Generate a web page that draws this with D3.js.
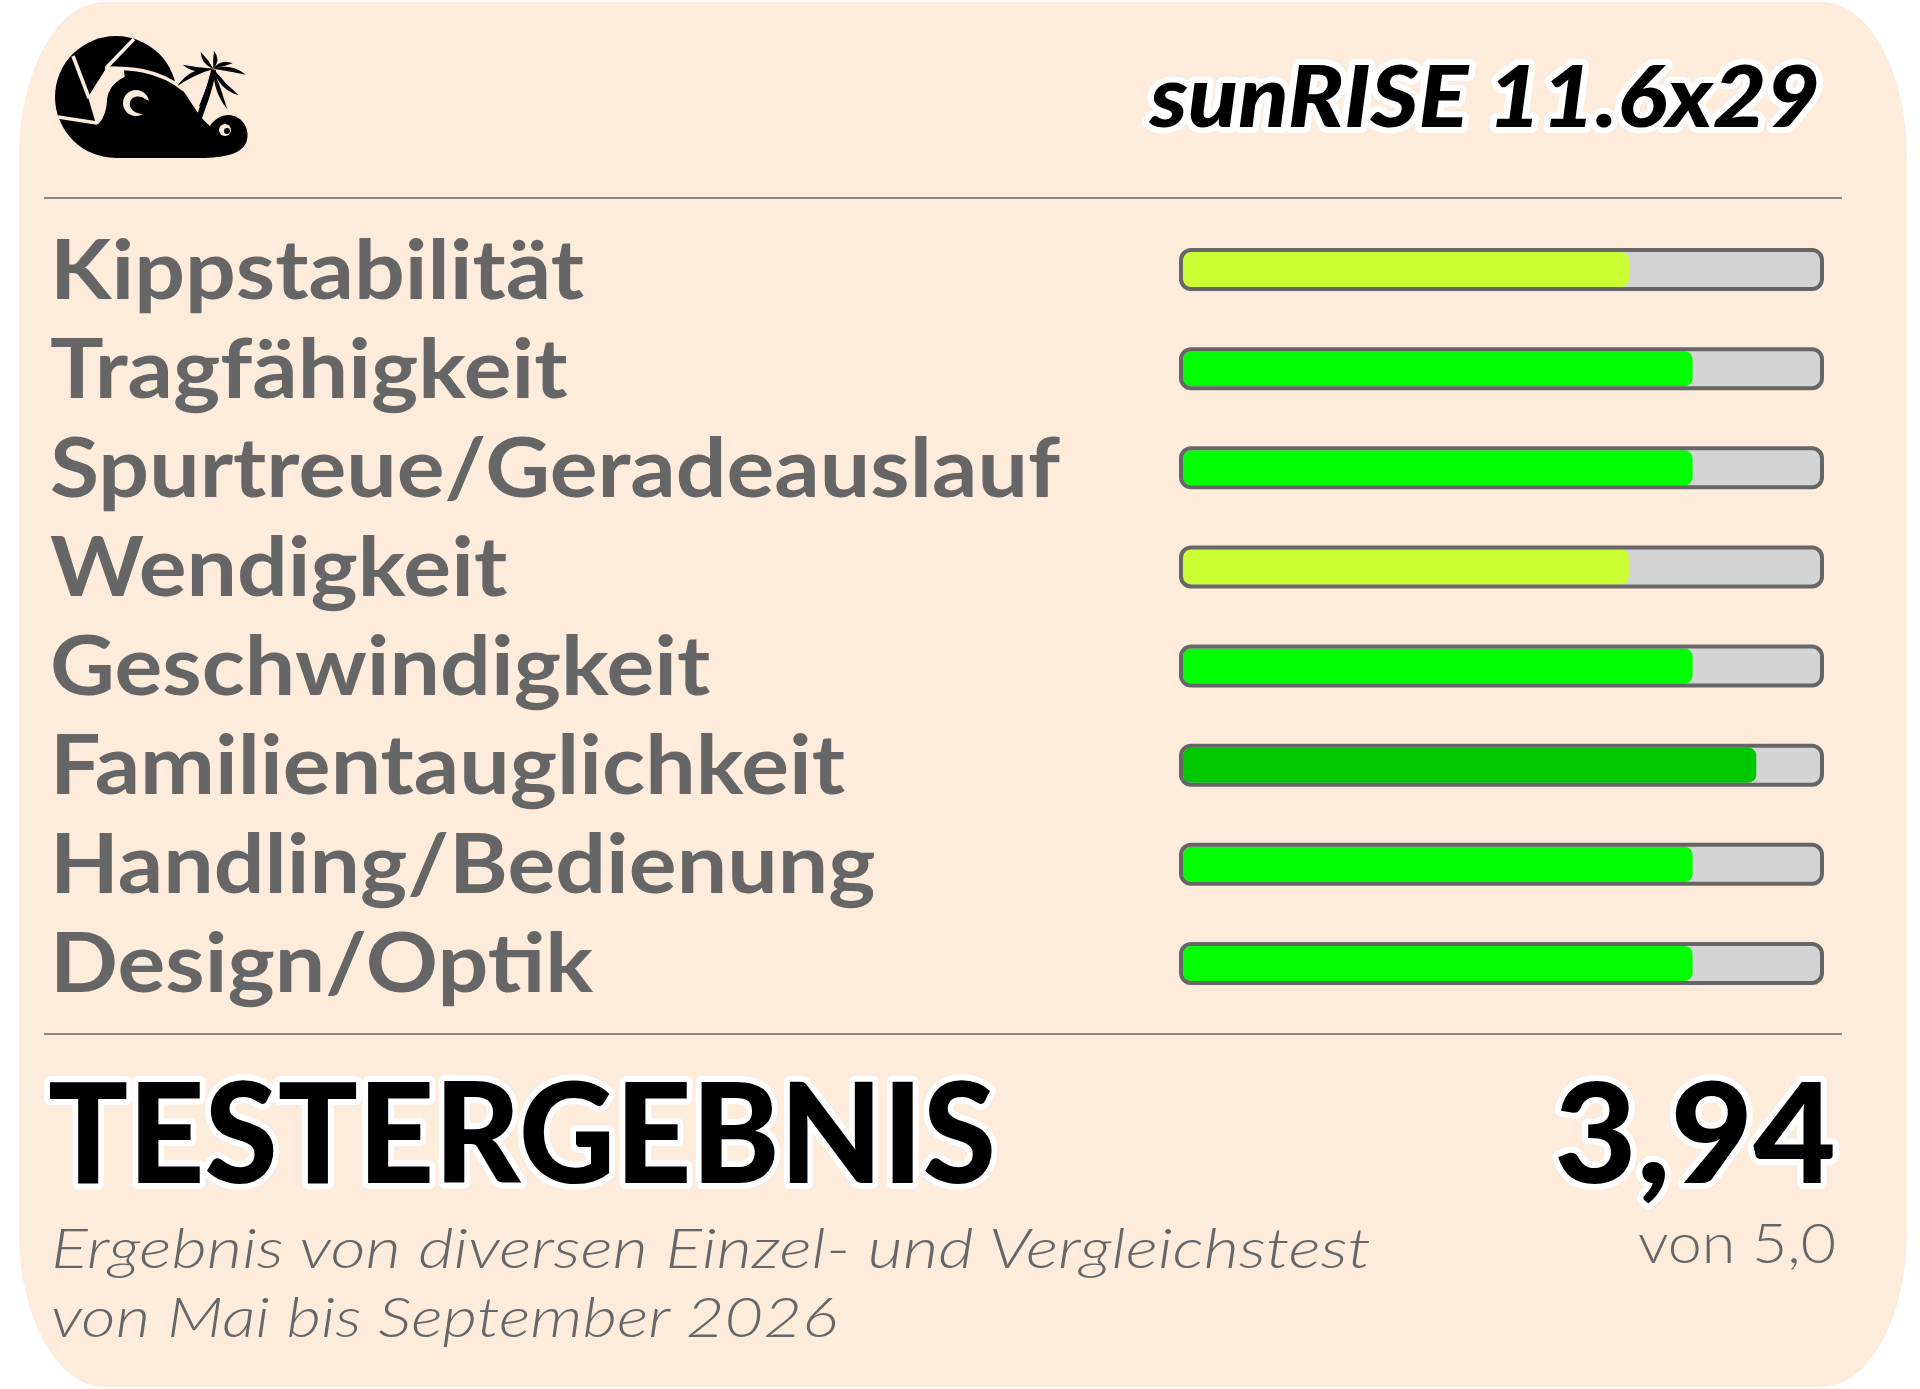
<!DOCTYPE html>
<html>
<head>
<meta charset="utf-8">
<title>sunRISE 11.6x29 – Testergebnis</title>
<script src="https://cdn.jsdelivr.net/npm/d3@7"></script>
<style>
  html, body { margin: 0; padding: 0; background: #ffffff; }
  svg { display: block; }
</style>
</head>
<body>
<div id="chart"></div>
<script>
// chart data
const productName = "sunRISE 11.6x29"
const criteria = [
  "Kippstabilität",
  "Tragfähigkeit",
  "Spurtreue/Geradeauslauf",
  "Wendigkeit",
  "Geschwindigkeit",
  "Familientauglichkeit",
  "Handling/Bedienung",
  "Design/Optik"
]
const scores = [3.5, 4, 4, 3.5, 4, 4.5, 4, 4]
const maxScore = 5
const resultTitle = "TESTERGEBNIS"
const noteLines = [
  "Ergebnis von diversen Einzel- und Vergleichstest",
  "von Mai bis September 2026"
]

const WIDTH = 1920
const HEIGHT = 1389
const CARD = { LEFT: 19, RIGHT: 1907, TOP: 2, BOTTOM: 1387, RX: 85, RY: 155 }
const BG = "#fdecdb"
const GREY = "#666666"
const FONT = "Lato, 'Open Sans', 'DejaVu Sans', sans-serif"

const svg = d3.select("#chart").append("svg")
  .attr("width", WIDTH)
  .attr("height", HEIGHT)

// card with soft elliptical corners
const c = CARD
svg.append("path")
  .attr("d", `M${c.LEFT + c.RX},${c.TOP} H${c.RIGHT - c.RX}
    A${c.RX},${c.RY} 0 0 1 ${c.RIGHT},${c.TOP + c.RY} V${c.BOTTOM - c.RY}
    A${c.RX},${c.RY} 0 0 1 ${c.RIGHT - c.RX},${c.BOTTOM} H${c.LEFT + c.RX}
    A${c.RX},${c.RY} 0 0 1 ${c.LEFT},${c.BOTTOM - c.RY} V${c.TOP + c.RY}
    A${c.RX},${c.RY} 0 0 1 ${c.LEFT + c.RX},${c.TOP} Z`)
  .attr("fill", BG)

// logo: aperture circle, curling wave, palm
const logo = svg.append("g").attr("class", "logo")

logo.append("circle")
  .attr("cx", 116).attr("cy", 97).attr("r", 61)
  .attr("fill", "#000")

// open strip between the blades and the wave
logo.append("path")
  .attr("d", "M107,67 L88,97 L96,124 L114,130 L128,112 L124,70 Z")
  .attr("fill", BG)

// wave body: crest, back and tail
logo.append("path")
  .attr("d", `M107,101 C108,85 122,74 142,73 C160,72 175,80 184,92
    C193,105 200,118 210,126 C215,118 225,113 234,116 C246,120 250,133 246,143
    C241,153 228,157 205,158 L116,158 L94,127 C100,124 106,116 107,101 Z`)
  .attr("fill", "#000")

// blade gaps and the thin gap above the crest
const cuts = [
  "M73,56 L89,98",
  "M58,117 L97,123",
  "M134,39 L107,67",
  "M105,68 C126,68 158,68 184,90"
]
logo.selectAll("path.cut").data(cuts).enter().append("path")
  .attr("class", "cut")
  .attr("d", d => d)
  .attr("fill", "none")
  .attr("stroke", BG)
  .attr("stroke-width", 3.6)

// wave eye with the curling lip
logo.append("circle")
  .attr("cx", 136).attr("cy", 103).attr("r", 13)
  .attr("fill", BG)
logo.append("path")
  .attr("d", "M152,113 C140,117 128,111 130,102 C132,96 140,95 145,99 C148,101 150,101 154,98 C152,104 150,108 152,113 Z")
  .attr("fill", "#000")

// small curl at the tail
logo.append("circle")
  .attr("cx", 225).attr("cy", 130).attr("r", 6)
  .attr("fill", BG)
logo.append("circle")
  .attr("cx", 227).attr("cy", 131).attr("r", 3)
  .attr("fill", "#000")

// palm, drawn at 3x and scaled down
const palm = logo.append("g")
  .attr("transform", "translate(50,30) scale(0.3333)")
palm.append("path")
  .attr("d", "M436,272 C452,220 472,170 484,118 L498,120 C490,175 470,225 452,276 Z")
  .attr("fill", "#000")
const crown = [490, 116]
const fronds = [
  [382, 168, 22], [398, 104, -16], [452, 66, -8], [492, 62, 10],
  [548, 100, -10], [588, 134, -14], [566, 196, 18], [532, 238, 10], [446, 232, -14]
]
function leaf(tx, ty, bend) {
  const [cx, cy] = crown
  const mx = (cx + tx) / 2, my = (cy + ty) / 2
  const dx = tx - cx, dy = ty - cy
  const len = Math.hypot(dx, dy)
  const nx = -dy / len, ny = dx / len
  return `M${cx},${cy} Q${mx + nx * (bend + 13)},${my + ny * (bend + 13)} ${tx},${ty}
    Q${mx + nx * (bend - 13)},${my + ny * (bend - 13)} ${cx},${cy} Z`
}
palm.selectAll("path.frond").data(fronds).enter().append("path")
  .attr("class", "frond")
  .attr("d", d => leaf(d[0], d[1], d[2]))
  .attr("fill", "#000")

// outlined heading text helper
function outlined(sel, size, style) {
  return sel
    .attr("font-family", FONT)
    .attr("font-size", size)
    .attr("font-weight", 900)
    .attr("font-style", style || "normal")
    .attr("fill", "#000")
    .attr("stroke", "#fff")
    .attr("stroke-width", 12)
    .attr("stroke-linejoin", "round")
    .attr("paint-order", "stroke")
}

function fitTo(sel, width) {
  sel.attr("textLength", width).attr("lengthAdjust", "spacingAndGlyphs")
}

// title
const title = outlined(svg.append("text"), 86, "italic")
  .attr("x", 1150)
  .attr("y", 127)
  .text(productName)
fitTo(title, 670)

// separators
const sepY = [198, 1034]
svg.selectAll("line.sep").data(sepY).enter().append("line")
  .attr("class", "sep")
  .attr("x1", 44).attr("x2", 1842)
  .attr("y1", d => d).attr("y2", d => d)
  .attr("stroke", "#8a8580")
  .attr("stroke-width", 2)

// scales
const y = d3.scaleBand()
  .domain(criteria)
  .range([220, 1013])
  .paddingInner(0)

const x = d3.scaleLinear()
  .domain([0, maxScore])
  .range([1183, 1820])

const color = d3.scaleThreshold()
  .domain([3.75, 4.25])
  .range(["#ccff33", "#00ff00", "#00c800"])

const rows = criteria.map((name, i) => ({ name, score: scores[i] }))

// labels
const labels = svg.selectAll("text.label").data(rows).enter().append("text")
  .attr("class", "label")
  .attr("x", 50)
  .attr("y", d => y(d.name) + y.bandwidth() / 2 + 29)
  .attr("font-family", FONT)
  .attr("font-size", 82)
  .attr("font-weight", 700)
  .attr("fill", GREY)
  .text(d => d.name)

const natural = labels.nodes().map(n => n.getComputedTextLength())
const labelScale = 1010 / d3.max(natural)
labels.each(function(d, i) { fitTo(d3.select(this), natural[i] * labelScale) })

// bars
const barH = 39
const bars = svg.selectAll("g.bar").data(rows).enter().append("g")
  .attr("class", "bar")
  .attr("transform", d => `translate(0,${y(d.name) + y.bandwidth() / 2})`)

bars.append("rect")
  .attr("x", x(0) - 2)
  .attr("y", -barH / 2)
  .attr("width", x(maxScore) - x(0) + 4)
  .attr("height", barH)
  .attr("rx", 10)
  .attr("fill", "#d4d4d4")

bars.append("rect")
  .attr("x", x(0))
  .attr("y", -17.5)
  .attr("width", d => x(d.score) - x(0))
  .attr("height", 35)
  .attr("rx", 8)
  .attr("fill", d => color(d.score))

bars.append("rect")
  .attr("x", x(0) - 2)
  .attr("y", -barH / 2)
  .attr("width", x(maxScore) - x(0) + 4)
  .attr("height", barH)
  .attr("rx", 10)
  .attr("fill", "none")
  .attr("stroke", GREY)
  .attr("stroke-width", 4)

// result
const total = d3.mean(scores)
const result = outlined(svg.append("text"), 140)
  .attr("x", 48)
  .attr("y", 1183)
  .text(resultTitle)
fitTo(result, 948)

const totalText = total.toFixed(2).replace(".", ",")
const score = outlined(svg.append("text"), 140)
  .attr("x", 1554)
  .attr("y", 1183)
  .text(totalText)
fitTo(score, 282)

const outOf = svg.append("text")
  .attr("x", 1638)
  .attr("y", 1263)
  .attr("font-family", FONT)
  .attr("font-size", 56)
  .attr("font-weight", 300)
  .attr("fill", GREY)
  .text(`von ${maxScore.toFixed(1).replace(".", ",")}`)
fitTo(outOf, 198)

// note lines
const notes = svg.selectAll("text.note").data(noteLines).enter().append("text")
  .attr("class", "note")
  .attr("x", 51)
  .attr("y", (d, i) => 1268 + i * 69)
  .attr("font-family", FONT)
  .attr("font-size", 56)
  .attr("font-weight", 300)
  .attr("font-style", "italic")
  .attr("fill", GREY)
  .text(d => d)

const noteLen = notes.nodes().map(n => n.getComputedTextLength())
const noteScale = 1320 / noteLen[0]
notes.each(function(d, i) { fitTo(d3.select(this), noteLen[i] * noteScale * (i ? 0.975 : 1)) })
</script>
</body>
</html>
